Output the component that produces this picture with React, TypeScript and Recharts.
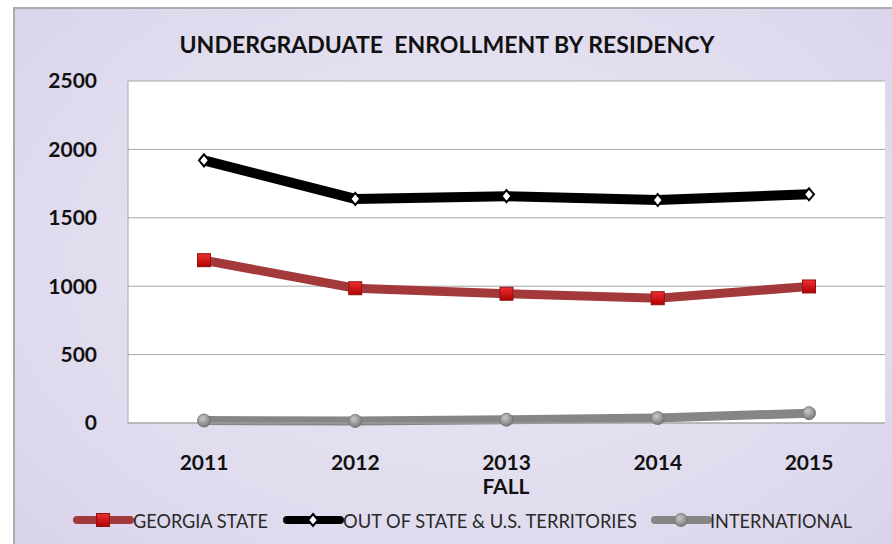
import React from 'react'
import { LineChart, Line, XAxis, YAxis, CartesianGrid } from 'recharts'

const years = ['2011', '2012', '2013', '2014', '2015']
const georgiaState = [1190, 985, 945, 912, 998]
const outOfState = [1920, 1638, 1658, 1630, 1672]
const international = [18, 15, 24, 36, 72]
const yTicks = [0, 500, 1000, 1500, 2000, 2500]

const seriesNames = ['GEORGIA STATE', 'OUT OF STATE & U.S. TERRITORIES', 'INTERNATIONAL']

const data = years.map((year, i) => ({
  year,
  georgia: georgiaState[i],
  outOfState: outOfState[i],
  international: international[i],
}))

const FONT = 'Lato, "Open Sans", sans-serif'

const SquareDot = (props: any) => {
  const { cx, cy } = props
  if (cx == null || cy == null) return null
  return <rect x={cx - 6.5} y={cy - 6.5} width={13} height={13} fill="url(#redDot)" stroke="#8E1414" strokeWidth={1} />
}

const DiamondDot = (props: any) => {
  const { cx, cy } = props
  if (cx == null || cy == null) return null
  return (
    <path
      d={`M${cx},${cy - 6} L${cx + 5},${cy} L${cx},${cy + 6} L${cx - 5},${cy} Z`}
      fill="#fff"
      stroke="#000"
      strokeWidth={2}
    />
  )
}

const CircleDot = (props: any) => {
  const { cx, cy } = props
  if (cx == null || cy == null) return null
  return <circle cx={cx} cy={cy} r={6.5} fill="url(#grayDot)" stroke="#6E6E6E" strokeWidth={0.8} />
}

const legendItems = [
  { name: seriesNames[0], color: '#A3393B', iconX: 77, textX: 133, textLen: 135 },
  { name: seriesNames[1], color: '#000', iconX: 287, textX: 343, textLen: 294 },
  { name: seriesNames[2], color: '#868686', iconX: 655, textX: 710, textLen: 142 },
]

const App = () => {
  return (
    <div style={{ position: 'fixed', left: 0, top: 0, width: 892, height: 544, background: '#fff', overflow: 'hidden' }}>
      <div
        style={{
          position: 'absolute',
          left: 13,
          top: 7,
          width: 900,
          height: 560,
          border: '2px solid #A9A9AE',
          background: 'radial-gradient(ellipse at 50% 45%, #E9E6F4 0%, #E1DDEF 60%, #D8D2EA 100%)',
          boxSizing: 'border-box',
        }}
      />
      <div style={{ position: 'absolute', left: 0, top: 0 }}>
        <LineChart width={892} height={544} data={data} margin={{ top: 81, right: 7, left: 0, bottom: 0 }}>
          <defs>
            <linearGradient id="redDot" x1="0" y1="0" x2="0" y2="1">
              <stop offset="0%" stopColor="#F03030" />
              <stop offset="100%" stopColor="#B00000" />
            </linearGradient>
            <radialGradient id="grayDot" cx="40%" cy="35%" r="70%">
              <stop offset="0%" stopColor="#C8C8C8" />
              <stop offset="100%" stopColor="#767676" />
            </radialGradient>
          </defs>
          <CartesianGrid vertical={false} stroke="#A6A6A6" fill="#fff" fillOpacity={1} />
          <XAxis
            dataKey="year"
            height={121}
            padding={{ left: 76, right: 76 }}
            tickLine={false}
            tickMargin={26}
            axisLine={{ stroke: '#A6A6A6' }}
            tick={{ fontFamily: FONT, fontWeight: 700, fontSize: 21, fill: '#111' }}
          />
          <YAxis
            width={128}
            domain={[0, 2500]}
            ticks={yTicks}
            tickLine={false}
            tickMargin={25}
            axisLine={{ stroke: '#A6A6A6' }}
            tick={{ fontFamily: FONT, fontWeight: 700, fontSize: 21, fill: '#111' }}
          />
          <Line
            dataKey="international"
            stroke="#868686"
            strokeWidth={9}
            dot={<CircleDot />}
            activeDot={false}
            isAnimationActive={false}
          />
          <Line
            dataKey="georgia"
            stroke="#A3393B"
            strokeWidth={9}
            dot={<SquareDot />}
            activeDot={false}
            isAnimationActive={false}
          />
          <Line
            dataKey="outOfState"
            stroke="#000"
            strokeWidth={10}
            dot={<DiamondDot />}
            activeDot={false}
            isAnimationActive={false}
          />
        </LineChart>
      </div>
      <svg width={892} height={544} style={{ position: 'absolute', left: 0, top: 0, pointerEvents: 'none' }}>
        <text
          x={447}
          y={53}
          textAnchor="middle"
          fontFamily={FONT}
          fontWeight={700}
          fontSize={23}
          fill="#111"
          textLength={535}
          lengthAdjust="spacingAndGlyphs"
        >
          {'UNDERGRADUATE\u00A0 ENROLLMENT BY RESIDENCY'}
        </text>
        <text x={506} y={494} textAnchor="middle" fontFamily={FONT} fontWeight={700} fontSize={21} fill="#111">
          FALL
        </text>
        {legendItems.map((item, i) => (
          <g key={item.name}>
            <line x1={item.iconX} x2={item.iconX + 53} y1={520} y2={520} stroke={item.color} strokeWidth={8} strokeLinecap="round" />
            {i === 0 && <SquareDot cx={item.iconX + 26} cy={520} />}
            {i === 1 && <DiamondDot cx={item.iconX + 26} cy={520} />}
            {i === 2 && <CircleDot cx={item.iconX + 26} cy={520} />}
            <text
              x={item.textX}
              y={528}
              fontFamily={FONT}
              fontSize={20}
              fill="#2A2A2A"
              textLength={item.textLen}
              lengthAdjust="spacingAndGlyphs"
            >
              {item.name}
            </text>
          </g>
        ))}
      </svg>
    </div>
  )
}

export default App
